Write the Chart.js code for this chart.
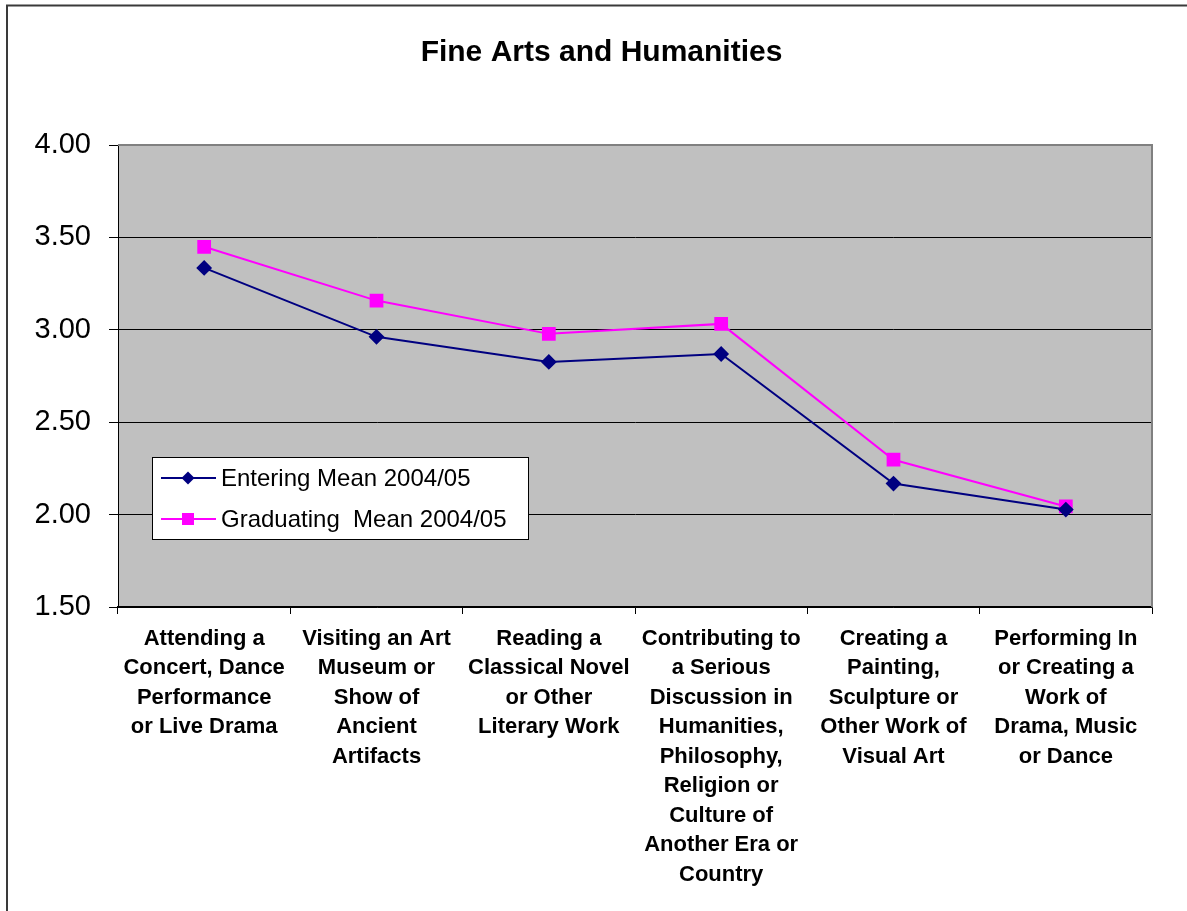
<!DOCTYPE html>
<html>
<head>
<meta charset="utf-8">
<title>Fine Arts and Humanities</title>
<script src="https://cdn.jsdelivr.net/npm/chart.js@4"></script>
<style>
  html, body { margin: 0; padding: 0; background: #fff; }
  #wrap { width: 1187px; height: 911px; }
</style>
</head>
<body>
<div id="wrap"><canvas id="chart" width="1187" height="911"></canvas></div>
<script>
// chart values
const categories = [
  ['Attending a', 'Concert, Dance', 'Performance', 'or Live Drama'],
  ['Visiting an Art', 'Museum or', 'Show of', 'Ancient', 'Artifacts'],
  ['Reading a', 'Classical Novel', 'or Other', 'Literary Work'],
  ['Contributing to', 'a Serious', 'Discussion in', 'Humanities,', 'Philosophy,', 'Religion or', 'Culture of', 'Another Era or', 'Country'],
  ['Creating a', 'Painting,', 'Sculpture or', 'Other Work of', 'Visual Art'],
  ['Performing In', 'or Creating a', 'Work of', 'Drama, Music', 'or Dance']
];
const seriesNames = ['Entering Mean 2004/05', 'Graduating  Mean 2004/05'];
const enteringMean = [3.335, 2.962, 2.826, 2.869, 2.168, 2.027];
const graduatingMean = [3.449, 3.158, 2.978, 3.032, 2.297, 2.044];
const yTicks = [1.5, 2.0, 2.5, 3.0, 3.5, 4.0];

// frame, grey plot area and its right/top edge
const plotBackground = {
  id: 'plotBackground',
  afterLayout(chart) {
    // title is centred on the outer frame, not on the canvas
    if (chart.titleBlock) chart.titleBlock.left = 51;
  },
  beforeDraw(chart) {
    const { ctx, chartArea: a } = chart;
    ctx.save();
    ctx.fillStyle = '#fff';
    ctx.fillRect(0, 0, chart.width, chart.height);
    ctx.strokeStyle = '#3a3a3a';
    ctx.lineWidth = 2;
    ctx.beginPath();
    ctx.moveTo(7, chart.height + 2);
    ctx.lineTo(7, 5.5);
    ctx.lineTo(chart.width + 2, 5.5);
    ctx.stroke();
    ctx.fillStyle = '#c0c0c0';
    ctx.fillRect(a.left, a.top, a.right - a.left, a.bottom - a.top);
    ctx.restore();
  },
  afterDraw(chart) {
    const { ctx, chartArea: a } = chart;
    ctx.save();
    ctx.strokeStyle = '#808080';
    ctx.lineWidth = 2;
    ctx.beginPath();
    ctx.moveTo(a.left, a.top);
    ctx.lineTo(a.right, a.top);
    ctx.lineTo(a.right, a.bottom);
    ctx.stroke();
    ctx.restore();
  }
};

// legend box drawn inside the plot, like the original
const boxLegend = {
  id: 'boxLegend',
  afterDraw(chart) {
    const { ctx } = chart;
    const x = 152, y = 457, w = 376, h = 82;
    ctx.save();
    ctx.fillStyle = '#fff';
    ctx.fillRect(x, y, w, h);
    ctx.strokeStyle = '#000';
    ctx.lineWidth = 1;
    ctx.strokeRect(x + 0.5, y + 0.5, w, h);
    ctx.font = '24px "Liberation Sans", Arial, sans-serif';
    ctx.textBaseline = 'middle';
    chart.data.datasets.forEach((ds, i) => {
      const rowY = y + 21 + i * 41;
      ctx.strokeStyle = ds.borderColor;
      ctx.lineWidth = 2;
      ctx.beginPath();
      ctx.moveTo(161, rowY);
      ctx.lineTo(216, rowY);
      ctx.stroke();
      ctx.fillStyle = ds.pointBackgroundColor;
      ctx.beginPath();
      if (ds.pointStyle === 'rectRot') {
        ctx.moveTo(188, rowY - 6.5);
        ctx.lineTo(194.5, rowY);
        ctx.lineTo(188, rowY + 6.5);
        ctx.lineTo(181.5, rowY);
        ctx.closePath();
      } else {
        ctx.rect(182, rowY - 6, 12, 12);
      }
      ctx.fill();
      ctx.fillStyle = '#000';
      ctx.fillText(ds.label, 221, rowY + 1);
    });
    ctx.restore();
  }
};

const ctx = document.getElementById('chart').getContext('2d');

new Chart(ctx, {
  type: 'line',
  data: {
    labels: categories,
    datasets: [
      {
        label: seriesNames[0],
        data: enteringMean,
        borderColor: '#000080',
        backgroundColor: '#000080',
        pointBackgroundColor: '#000080',
        pointBorderColor: '#000080',
        pointStyle: 'rectRot',
        pointRadius: 6.5,
        borderWidth: 2,
        tension: 0,
      },
      {
        label: seriesNames[1],
        data: graduatingMean,
        borderColor: '#ff00ff',
        backgroundColor: '#ff00ff',
        pointBackgroundColor: '#ff00ff',
        pointBorderColor: '#ff00ff',
        pointStyle: 'rect',
        pointRadius: 8.3,
        borderWidth: 2,
        tension: 0,
      },
    ],
  },
  options: {
    responsive: false,
    animation: false,
    layout: { padding: { left: 0, right: 35, top: 0, bottom: 0 } },
    plugins: {
      legend: { display: false },
      tooltip: { enabled: false },
      title: {
        display: true,
        text: 'Fine Arts and Humanities',
        color: '#000',
        font: { family: '"Liberation Sans", Arial, sans-serif', size: 30, weight: 'bold', lineHeight: 1.2 },
        padding: { top: 35, bottom: 74 },
      },
    },
    scales: {
      x: {
        offset: true,
        grid: {
          offset: true,
          drawOnChartArea: false,
          tickLength: 7,
          tickColor: '#000',
        },
        border: { color: '#000', width: 1.5 },
        ticks: {
          autoSkip: false,
          maxRotation: 0,
          minRotation: 0,
          padding: 10,
          color: '#000',
          font: { family: '"Liberation Sans", Arial, sans-serif', size: 22, weight: 'bold', lineHeight: 1.34 },
        },
        afterFit(scale) { scale.height = 304; },
      },
      y: {
        min: 1.5,
        max: 4,
        afterBuildTicks(scale) { scale.ticks = yTicks.map(v => ({ value: v })); },
        grid: {
          color: c => (c.tick && c.tick.value === 4 ? '#808080' : '#000'),
          tickColor: '#000',
          tickLength: 9,
          lineWidth: 1,
        },
        border: { color: '#000', width: 1 },
        ticks: {
          padding: 18,
          color: '#000',
          font: { family: '"Liberation Sans", Arial, sans-serif', size: 29 },
          callback: v => Number(v).toFixed(2),
        },
        afterFit(scale) { scale.width = 118; },
      },
    },
  },
  plugins: [plotBackground, boxLegend],
});
</script>
</body>
</html>
